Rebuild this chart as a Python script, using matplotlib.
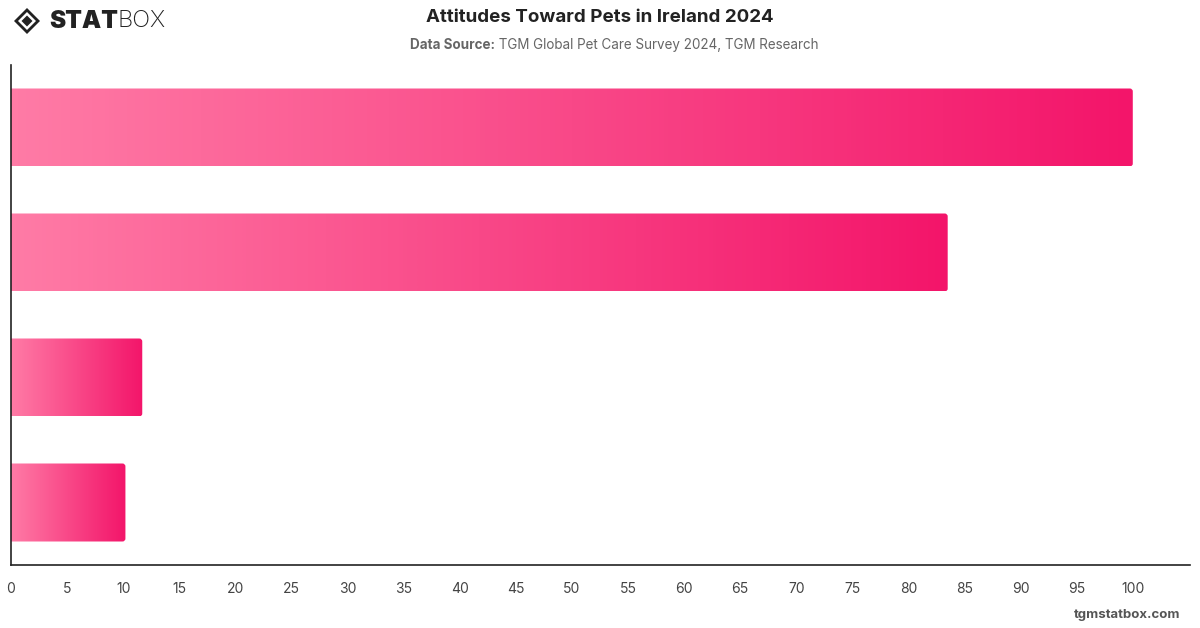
import numpy as np
import matplotlib
matplotlib.use("Agg")
import matplotlib.pyplot as plt
from matplotlib.patches import FancyBboxPatch, Polygon
from matplotlib.colors import LinearSegmentedColormap

# data (category labels are hidden in the original)
categories = ["Pets are part of the family", "Pets improve wellbeing",
              "Pets are too expensive", "Pets are too much work"]
values = [100, 83.5, 11.7, 10.2]
ticks = list(range(0, 105, 5))

plt.rcParams["font.family"] = ["Inter", "DejaVu Sans"]

W, H = 1200, 628
fig = plt.figure(figsize=(W / 100, H / 100), dpi=100)
fig.patch.set_facecolor("white")

# axes box in pixels: left 11, right 1190, top 65, bottom 565
ax = fig.add_axes([11 / W, 1 - 565 / H, (1190 - 11) / W, (565 - 65) / H])
xmax = 105.1
ax.set_xlim(0, xmax)
ax.set_ylim(len(values) - 0.5, -0.5)

cmap = LinearSegmentedColormap.from_list("pink", ["#ff7ba6", "#f3156a"])
grad = np.linspace(0, 1, 256).reshape(1, -1)

bar_h = 0.624
x_per_px = xmax / (1190 - 11)
y_per_px = len(values) / 500
radius = 3 * x_per_px
for i, v in enumerate(values):
    y0 = i - bar_h / 2
    patch = FancyBboxPatch((-1, y0), v + 1, bar_h,
                           boxstyle=f"round,pad=0,rounding_size={radius}",
                           mutation_aspect=y_per_px / x_per_px,
                           facecolor="none", edgecolor="none")
    ax.add_patch(patch)
    im = ax.imshow(grad, cmap=cmap, aspect="auto",
                   extent=(0, v, y0 + bar_h, y0), interpolation="bilinear", zorder=2)
    im.set_clip_path(patch)

ax.set_xlim(0, xmax)
ax.set_ylim(len(values) - 0.5, -0.5)

for s in ["top", "right"]:
    ax.spines[s].set_visible(False)
for s in ["left", "bottom"]:
    ax.spines[s].set_color("#222222")
    ax.spines[s].set_linewidth(1.2)
ax.set_yticks([])
ax.set_xticks(ticks)
ax.set_xticklabels([str(t) for t in ticks])
ax.tick_params(axis="x", length=0, pad=12, labelsize=10, labelcolor="#444444")

# title and subtitle
fig.text(0.5, 1 - 17 / H, "Attitudes Toward Pets in Ireland 2024", ha="center", va="center",
         fontsize=13.5, fontweight="bold", color="#222222")

renderer = fig.canvas.get_renderer()
t1 = fig.text(0, 1 - 45 / H, "Data Source:", ha="left", va="center",
              fontsize=9.7, fontweight="bold", color="#666666")
t2 = fig.text(0, 1 - 45 / H, " TGM Global Pet Care Survey 2024, TGM Research", ha="left",
              va="center", fontsize=9.7, color="#666666")
w1 = t1.get_window_extent(renderer).width
w2 = t2.get_window_extent(renderer).width
start = 614 - (w1 + w2) / 2
t1.set_x(start / W)
t2.set_x((start + w1) / W)

# logo
logo = fig.add_axes([0, 1 - 40 / H, 60 / W, 40 / H])
logo.set_xlim(0, 60)
logo.set_ylim(40, 0)
logo.axis("off")
cx, cy = 27, 21
logo.add_patch(Polygon([(cx - 13, cy), (cx, cy - 13), (cx + 13, cy), (cx, cy + 13)],
                       closed=True, facecolor="#222222", edgecolor="none"))
logo.add_patch(Polygon([(cx - 9, cy), (cx, cy - 9), (cx + 9, cy), (cx, cy + 9)],
                       closed=True, facecolor="white", edgecolor="none"))
logo.add_patch(Polygon([(cx - 5.5, cy), (cx, cy - 5.5), (cx + 5.5, cy), (cx, cy + 5.5)],
                       closed=True, facecolor="#222222", edgecolor="none"))
s1 = fig.text(49 / W, 1 - 21 / H, "STAT", ha="left", va="center", fontsize=17.5,
              fontweight="black", color="#222222")
ws = s1.get_window_extent(renderer).width
fig.text((49 + ws) / W, 1 - 21 / H, "BOX", ha="left", va="center", fontsize=17,
         fontweight="light", color="#222222")

fig.text(1180 / W, 1 - 615 / H, "tgmstatbox.com", ha="right", va="center",
         fontsize=9.5, fontweight="bold", color="#555555")

fig.savefig("out.png", dpi=100)
plt.close(fig)
